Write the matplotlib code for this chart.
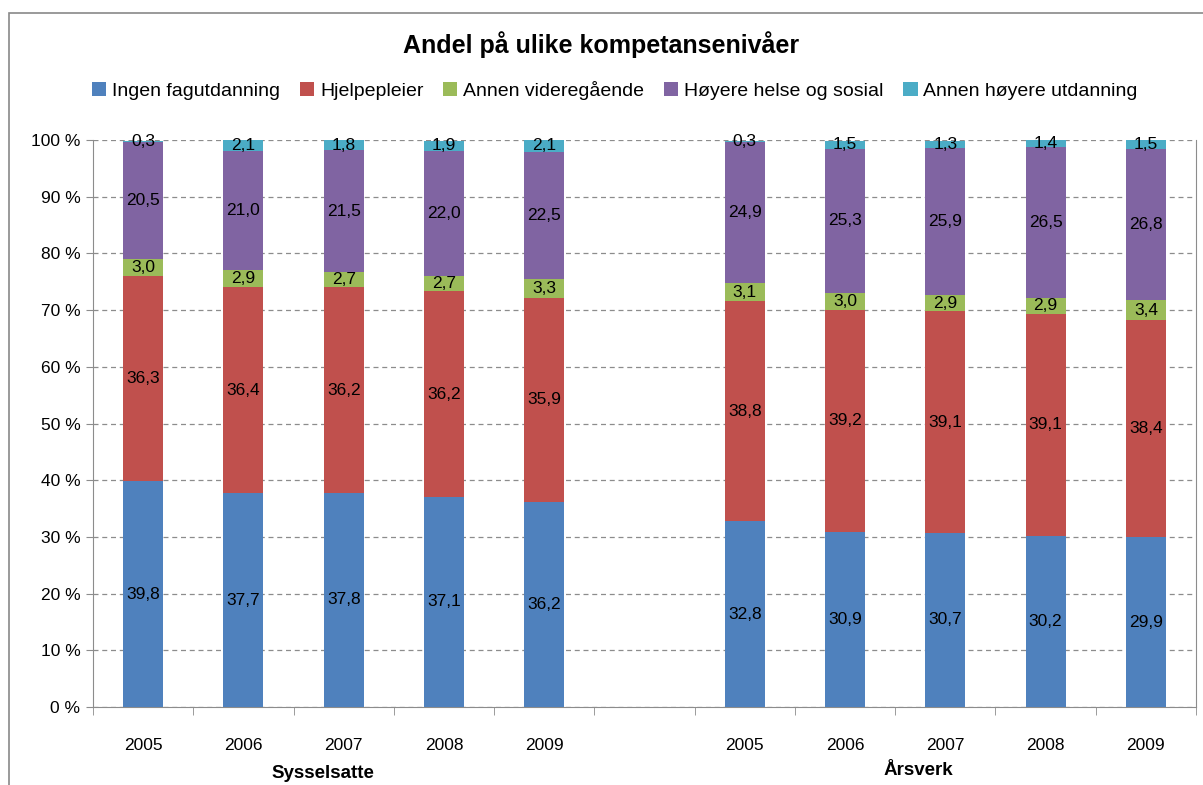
import numpy as np
import matplotlib.pyplot as plt
from matplotlib.patches import Rectangle
from matplotlib.ticker import FixedLocator, FuncFormatter

plt.rcParams["font.family"] = ["Liberation Sans", "DejaVu Sans"]

years = ["2005", "2006", "2007", "2008", "2009"]
groups = ["Sysselsatte", "Årsverk"]
series_names = ["Ingen fagutdanning", "Hjelpepleier", "Annen videregående",
                "Høyere helse og sosial", "Annen høyere utdanning"]

# Sysselsatte
syss_ingen = [39.8, 37.7, 37.8, 37.1, 36.2]
syss_hjelp = [36.3, 36.4, 36.2, 36.2, 35.9]
syss_vgs = [3.0, 2.9, 2.7, 2.7, 3.3]
syss_helse = [20.5, 21.0, 21.5, 22.0, 22.5]
syss_annen = [0.3, 2.1, 1.8, 1.9, 2.1]

# Årsverk
arsv_ingen = [32.8, 30.9, 30.7, 30.2, 29.9]
arsv_hjelp = [38.8, 39.2, 39.1, 39.1, 38.4]
arsv_vgs = [3.1, 3.0, 2.9, 2.9, 3.4]
arsv_helse = [24.9, 25.3, 25.9, 26.5, 26.8]
arsv_annen = [0.3, 1.5, 1.3, 1.4, 1.5]

colors = ["#4F81BD", "#C0504D", "#9BBB59", "#8064A2", "#4BACC6"]

syss = [syss_ingen, syss_hjelp, syss_vgs, syss_helse, syss_annen]
arsv = [arsv_ingen, arsv_hjelp, arsv_vgs, arsv_helse, arsv_annen]

# positions: 5 bars, one empty slot, 5 bars
x = np.array([0, 1, 2, 3, 4, 6, 7, 8, 9, 10])

fig = plt.figure(figsize=(12.03, 7.85), dpi=100)
fig.patches.append(Rectangle((9 / 1203, -0.05), 1.2, 1 - 13 / 785 + 0.05,
                             transform=fig.transFigure, fill=False,
                             edgecolor="#898989", linewidth=1.2))
ax = fig.add_axes([93 / 1203, 1 - 707 / 785, (1196 - 93) / 1203, (707 - 140) / 785])

bottom = np.zeros(len(x))
for name, color, s, a in zip(series_names, colors, syss, arsv):
    vals = np.array(s + a)
    ax.bar(x, vals, width=0.4, bottom=bottom, color=color, label=name, zorder=3)
    for xi, b, v in zip(x, bottom, vals):
        ax.text(xi, b + v / 2, f"{v:.1f}".replace(".", ","), ha="center",
                va="center", fontsize=12.5, color="black", zorder=4)
    bottom += vals

ax.set_xlim(-0.5, 10.5)
ax.set_ylim(0, 100)

ax.yaxis.set_major_locator(FixedLocator(np.arange(0, 101, 10)))
ax.yaxis.set_major_formatter(FuncFormatter(lambda v, p: f"{int(v)} %"))
ax.grid(axis="y", linestyle=(0, (4, 3)), color="#8c8c8c", linewidth=0.9, zorder=0)
ax.tick_params(axis="y", length=5, color="#8c8c8c", labelsize=12.5, pad=4)

ax.set_xticks(x)
ax.set_xticklabels(years + years)
ax.set_xticks(np.arange(-0.5, 11, 1), minor=True)
ax.tick_params(axis="x", which="major", length=0, labelsize=12.5, pad=22)
ax.tick_params(axis="x", which="minor", length=6, color="#8c8c8c")

for side in ["left", "bottom", "right"]:
    ax.spines[side].set_color("#8c8c8c")
ax.spines["top"].set_visible(False)

ax.text(1.79, -0.118, groups[0], transform=ax.get_xaxis_transform(),
        ha="center", va="center", fontsize=13.5, fontweight="bold")
ax.text(7.73, -0.112, groups[1], transform=ax.get_xaxis_transform(),
        ha="center", va="center", fontsize=13.5, fontweight="bold")

fig.text(0.5, 1 - 45 / 785, "Andel på ulike kompetansenivåer", ha="center",
         va="center", fontsize=18, fontweight="bold")
fig.legend(loc="center", bbox_to_anchor=(0.511, 1 - 90 / 785), ncol=5,
           frameon=False, fontsize=14, handlelength=0.75, handleheight=0.75,
           handletextpad=0.3, columnspacing=1.0)

fig.savefig("out.png", dpi=100)
